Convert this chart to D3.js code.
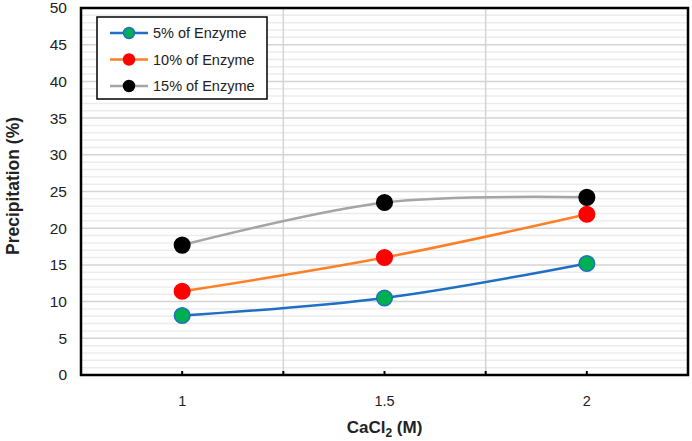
<!DOCTYPE html>
<html>
<head>
<meta charset="utf-8">
<script src="https://cdn.jsdelivr.net/npm/d3@7"></script>
<style>
  body { margin: 0; background: #fff; }
  text { font-family: "Liberation Sans", Arial, sans-serif; fill: #222; }
</style>
</head>
<body>
<script>
// categories and series
var categories = ["1", "1.5", "2"];
var seriesNames = ["5% of Enzyme", "10% of Enzyme", "15% of Enzyme"];
var enzyme5 = [8.1, 10.5, 15.2];
var enzyme10 = [11.4, 16.0, 21.9];
var enzyme15 = [17.7, 23.5, 24.2];
var yTicks = [0, 5, 10, 15, 20, 25, 30, 35, 40, 45, 50];

var series = [
  {name: seriesNames[0], values: enzyme5, line: "#1f6fc5", fill: "#00b050", stroke: "#1f6fc5"},
  {name: seriesNames[1], values: enzyme10, line: "#ff7f27", fill: "#ff0000", stroke: "#ff0000"},
  {name: seriesNames[2], values: enzyme15, line: "#a5a5a5", fill: "#000000", stroke: "#000000"}
];

// set margins, svg and g element
var margin = {top: 8, right: 4, bottom: 66, left: 81},
    width = 692 - margin.left - margin.right,
    height = 441 - margin.top - margin.bottom;

var svg = d3.select("body").append("svg")
  .attr("width", 692)
  .attr("height", 441);

var g = svg.append("g")
  .attr("transform", "translate(" + margin.left + "," + margin.top + ")");

var x = d3.scaleBand().domain(categories).range([0, width]).padding(0);
var y = d3.scaleLinear().domain([0, 50]).range([height, 0]);

// minor gridlines every 1
g.selectAll("line.minor")
  .data(d3.range(1, 50))
  .enter().append("line")
    .attr("x1", 0).attr("x2", width)
    .attr("y1", function(d) { return y(d); })
    .attr("y2", function(d) { return y(d); })
    .attr("stroke", function(d) { return d % 5 === 0 ? "#d4d4d4" : "#ececec"; })
    .attr("stroke-width", 1.5);

// vertical gridlines at category boundaries
var bounds = categories.slice(1).map(function(c) { return x(c); });
g.selectAll("line.vgrid")
  .data(bounds)
  .enter().append("line")
    .attr("x1", function(d) { return d; })
    .attr("x2", function(d) { return d; })
    .attr("y1", 0).attr("y2", height)
    .attr("stroke", "#d4d4d4")
    .attr("stroke-width", 1.5);

// x ticks (inside), at centers and boundaries
var tickX = categories.map(function(c) { return x(c) + x.bandwidth() / 2; }).concat(bounds);
g.selectAll("line.xtick")
  .data(tickX)
  .enter().append("line")
    .attr("x1", function(d) { return d; })
    .attr("x2", function(d) { return d; })
    .attr("y1", height).attr("y2", height - 4)
    .attr("stroke", "#000")
    .attr("stroke-width", 2);

// lines
var line = d3.line()
  .x(function(d, i) { return x(categories[i]) + x.bandwidth() / 2; })
  .y(function(d) { return y(d); })
  .curve(d3.curveCardinal.tension(0));

series.forEach(function(s) {
  g.append("path")
    .datum(s.values)
    .attr("d", line)
    .attr("fill", "none")
    .attr("stroke", s.line)
    .attr("stroke-width", 2.5);
});

series.forEach(function(s) {
  g.selectAll(null)
    .data(s.values)
    .enter().append("circle")
      .attr("cx", function(d, i) { return x(categories[i]) + x.bandwidth() / 2; })
      .attr("cy", function(d) { return y(d); })
      .attr("r", 7.8)
      .attr("fill", s.fill)
      .attr("stroke", s.stroke)
      .attr("stroke-width", 1.5);
});

// plot border
g.append("rect")
  .attr("width", width).attr("height", height)
  .attr("fill", "none")
  .attr("stroke", "#000")
  .attr("stroke-width", 2.5);

// y tick labels
g.selectAll("text.ylab")
  .data(yTicks)
  .enter().append("text")
    .attr("x", -14)
    .attr("y", function(d) { return y(d); })
    .attr("dy", "0.35em")
    .attr("text-anchor", "end")
    .style("font-size", "15.5px")
    .text(function(d) { return d; });

// x tick labels
g.selectAll("text.xlab")
  .data(categories)
  .enter().append("text")
    .attr("x", function(d) { return x(d) + x.bandwidth() / 2; })
    .attr("y", height + 31)
    .attr("text-anchor", "middle")
    .style("font-size", "14.5px")
    .text(function(d) { return d; });

// axis titles
var xt = svg.append("text")
  .attr("x", margin.left + width / 2)
  .attr("y", 433)
  .attr("text-anchor", "middle")
  .style("font-size", "17px")
  .style("font-weight", "bold");
xt.append("tspan").text("CaCl");
xt.append("tspan").attr("dy", 4).style("font-size", "12px").text("2");
xt.append("tspan").attr("dy", -4).text(" (M)");

svg.append("text")
  .attr("transform", "translate(19,186) rotate(-90)")
  .attr("text-anchor", "middle")
  .style("font-size", "17.5px")
  .style("font-weight", "bold")
  .text("Precipitation (%)");

// legend
var lg = svg.append("g").attr("transform", "translate(97,17)");
lg.append("rect")
  .attr("width", 170).attr("height", 82)
  .attr("fill", "#fff")
  .attr("stroke", "#000")
  .attr("stroke-width", 1.5);

var items = lg.selectAll("g.item")
  .data(series)
  .enter().append("g")
    .attr("transform", function(d, i) { return "translate(0," + (16 + i * 26.5) + ")"; });

items.append("line")
  .attr("x1", 13).attr("x2", 51)
  .attr("stroke", function(d) { return d.line; })
  .attr("stroke-width", 2.5);

items.append("circle")
  .attr("cx", 32).attr("r", 5.5)
  .attr("fill", function(d) { return d.fill; })
  .attr("stroke", function(d) { return d.stroke; })
  .attr("stroke-width", 1.5);

items.append("text")
  .attr("x", 56)
  .attr("dy", "0.35em")
  .style("font-size", "14.5px")
  .text(function(d) { return d.name; });
</script>
</body>
</html>
